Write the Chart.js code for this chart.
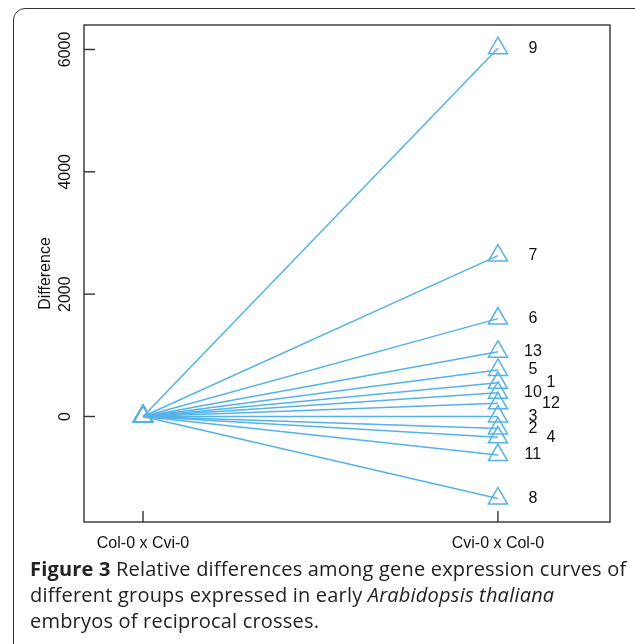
<!DOCTYPE html>
<html>
<head>
<meta charset="utf-8">
<script src="https://cdn.jsdelivr.net/npm/chart.js@4"></script>
<style>
  html, body { margin: 0; padding: 0; background: #fff; overflow: hidden; }
  #wrap { position: relative; width: 635px; height: 644px; overflow: hidden; }
  #frame {
    position: absolute; left: 13px; top: 8px; width: 720px; height: 700px;
    border: 1.5px solid #333; border-radius: 12px;
  }
  #chart { position: absolute; left: 0; top: 0; }
  #caption {
    position: absolute; left: 30px; top: 556px; width: 610px; white-space: nowrap;
    font-family: "Open Sans", sans-serif; font-size: 20px; letter-spacing: 0.2px;
    line-height: 26px; color: #222;
  }
</style>
</head>
<body>
<div id="wrap">
  <div id="frame"></div>
  <canvas id="chart" width="635" height="644"></canvas>
  <div id="caption"><b>Figure 3</b> Relative differences among gene expression curves of<br>different groups expressed in early <i>Arabidopsis thaliana</i><br>embryos of reciprocal crosses.</div>
</div>
<script>
// données
const crosses = ['Col-0 x Cvi-0', 'Cvi-0 x Col-0'];
const groups = ['1', '2', '3', '4', '5', '6', '7', '8', '9', '10', '11', '12', '13'];
const startValues = [0, 0, 0, 0, 0, 0, 0, 0, 0, 0, 0, 0, 0];
const endValues = [550, -195, 0, -340, 760, 1600, 2630, -1340, 6020, 390, -630, 215, 1060];
const yTicks = [0, 2000, 4000, 6000];

// étiquettes décalées dans une deuxième colonne
const shiftedLabels = ['1', '12', '4'];
const blue = '#55b2e6';

const datasets = groups.map((g, i) => ({
  label: g,
  data: [{ x: 1, y: startValues[i] }, { x: 2, y: endValues[i] }],
  showLine: true,
  borderColor: blue,
  borderWidth: 1.5,
  pointStyle: 'triangle',
  pointRadius: 11,
  pointBorderWidth: 1.5,
  pointBorderColor: blue,
  pointBackgroundColor: 'rgba(0,0,0,0)'
}));

const axesPlugin = {
  id: 'rAxes',
  afterDraw(chart) {
    const ctx = chart.ctx;
    const a = chart.chartArea;
    const xs = chart.scales.x, ys = chart.scales.y;
    ctx.save();
    ctx.strokeStyle = '#333';
    ctx.lineWidth = 1.4;
    ctx.strokeRect(a.left, a.top, a.right - a.left, a.bottom - a.top);

    ctx.fillStyle = '#111';
    ctx.font = '16px "Liberation Sans", Arial, sans-serif';
    ctx.textAlign = 'center';
    ctx.textBaseline = 'middle';
    yTicks.forEach(t => {
      const y = ys.getPixelForValue(t);
      ctx.beginPath();
      ctx.moveTo(a.left, y);
      ctx.lineTo(a.left + 11, y);
      ctx.stroke();
      ctx.save();
      ctx.translate(a.left - 18, y);
      ctx.rotate(-Math.PI / 2);
      ctx.fillText(String(t), 0, 0);
      ctx.restore();
    });
    crosses.forEach((c, i) => {
      const x = xs.getPixelForValue(i + 1);
      ctx.beginPath();
      ctx.moveTo(x, a.bottom);
      ctx.lineTo(x, a.bottom - 11);
      ctx.stroke();
      ctx.fillText(c, x, a.bottom + 22);
    });
    ctx.save();
    ctx.translate(a.left - 38, (a.top + a.bottom) / 2);
    ctx.rotate(-Math.PI / 2);
    ctx.fillText('Difference', 0, 0);
    ctx.restore();

    ctx.font = '16px "Liberation Sans", Arial, sans-serif';
    const x2 = xs.getPixelForValue(2);
    groups.forEach((g, i) => {
      const y = ys.getPixelForValue(endValues[i]);
      const dx = shiftedLabels.includes(g) ? 53 : 35;
      ctx.fillText(g, x2 + dx, y);
    });
    ctx.restore();
  }
};

new Chart(document.getElementById('chart'), {
  type: 'scatter',
  data: { datasets },
  options: {
    responsive: false,
    animation: false,
    layout: { padding: { left: 84, top: 25, right: 25, bottom: 122 } },
    plugins: { legend: { display: false }, tooltip: { enabled: false } },
    scales: {
      x: { type: 'linear', min: 0.8337, max: 2.3158, display: false },
      y: { type: 'linear', min: -1725, max: 6400, display: false }
    }
  },
  plugins: [axesPlugin]
});
</script>
</body>
</html>
